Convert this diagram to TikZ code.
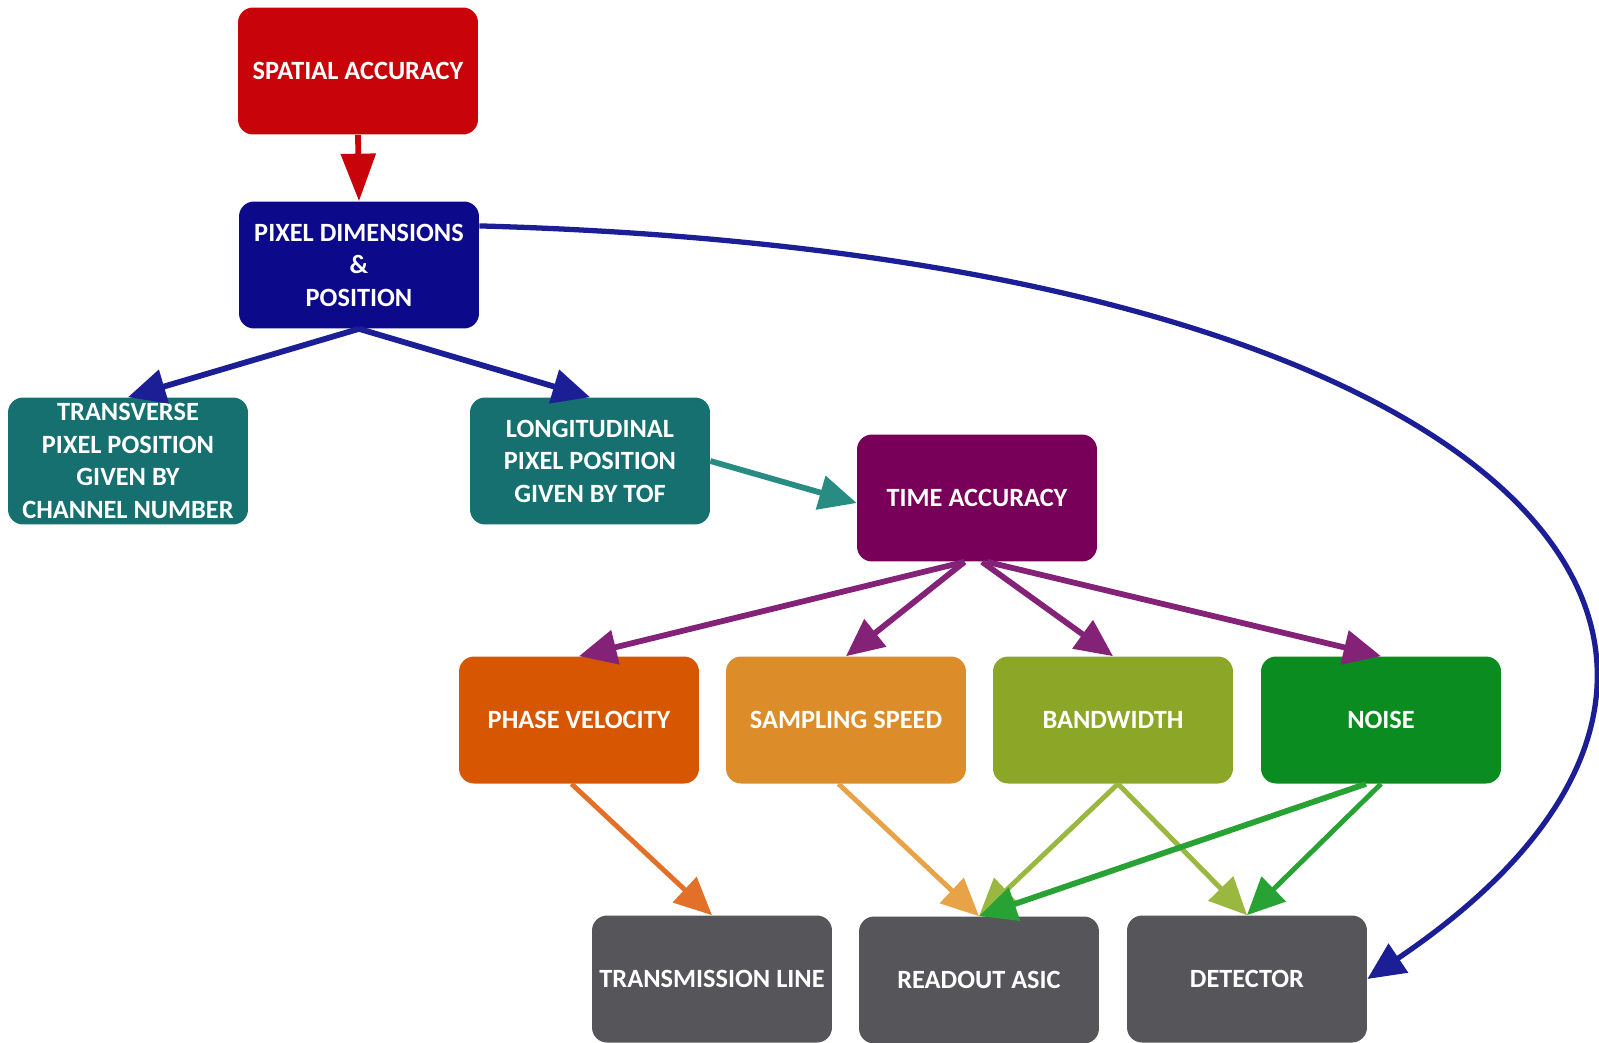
\documentclass[tikz,border=0pt]{standalone}
\usepackage{fontspec}
\setmainfont{Carlito}
\usetikzlibrary{arrows.meta,positioning}

\definecolor{redbox}{RGB}{200,4,10}
\definecolor{navybox}{RGB}{12,10,138}
\definecolor{navyline}{RGB}{28,30,150}
\definecolor{tealbox}{RGB}{22,112,112}
\definecolor{tealline}{RGB}{40,140,130}
\definecolor{purplebox}{RGB}{120,0,88}
\definecolor{purpleline}{RGB}{132,34,120}
\definecolor{phasebox}{RGB}{214,86,2}
\definecolor{phaseline}{RGB}{226,112,40}
\definecolor{sampbox}{RGB}{220,140,40}
\definecolor{sampline}{RGB}{232,162,72}
\definecolor{bandbox}{RGB}{140,166,40}
\definecolor{bandline}{RGB}{154,184,64}
\definecolor{noisebox}{RGB}{10,140,32}
\definecolor{noiseline}{RGB}{40,162,52}
\definecolor{greybox}{RGB}{86,86,90}

\tikzset{
  box/.style={rectangle, rounded corners=0.3cm, minimum width=4.8cm, minimum height=2.54cm,
    text=white, align=center, font=\bfseries\fontsize{15}{18.5}\selectfont, inner sep=2pt},
  arr/.style={line width=3.3pt, -{Triangle[length=0.75cm,width=0.68cm]}},
  thinarr/.style={arr, line width=2.8pt},
}

\begin{document}
\begin{tikzpicture}[x=0.02cm,y=-0.02cm]
  \useasboundingbox (0,0) rectangle (1599,1042); %page frame

  %top of the tree
  \node[box,fill=redbox]  (spatial) at (358,71)  {SPATIAL ACCURACY};
  \node[box,fill=navybox] (pixdim)  at (359,265) {PIXEL DIMENSIONS\\\&\\POSITION};

  %position boxes
  \node[box,fill=tealbox] (transv) at (128,461) {TRANSVERSE\\PIXEL POSITION\\GIVEN BY\\CHANNEL NUMBER};
  \node[box,fill=tealbox] (longit) at (590,461) {LONGITUDINAL\\PIXEL POSITION\\GIVEN BY TOF};
  \node[box,fill=purplebox] (time) at (977,498) {TIME ACCURACY};

  %what the timing depends on
  \node[box,fill=phasebox] (phase)    at (579,720)  {PHASE VELOCITY};
  \node[box,fill=sampbox]  (sampling) at (846,720)  {SAMPLING SPEED};
  \node[box,fill=bandbox]  (bandw)    at (1113,720) {BANDWIDTH};
  \node[box,fill=noisebox] (noise)    at (1381,720) {NOISE};

  %hardware row
  \node[box,fill=greybox] (tline)    at (712,979)  {TRANSMISSION LINE};
  \node[box,fill=greybox] (asic)     at (979,980)  {READOUT ASIC};
  \node[box,fill=greybox] (detector) at (1247,979) {DETECTOR};

  %arrows
  \draw[arr,redbox,-{Triangle[length=0.95cm,width=0.68cm]}] (spatial.south) -- (pixdim.north);
  \draw[arr,navyline] (pixdim.south) -- (transv.north);
  \draw[arr,navyline] (pixdim.south) -- (longit.north);
  \draw[arr,tealline] (longit.east) -- ([yshift=-0.1cm]time.west);

  \draw[arr,purpleline] ([xshift=-0.25cm]time.south) -- (phase.north);
  \draw[arr,purpleline] ([xshift=-0.25cm]time.south) -- (sampling.north);
  \draw[arr,purpleline] ([xshift=0.1cm]time.south) -- (bandw.north);
  \draw[arr,purpleline] ([xshift=0.2cm]time.south) -- (noise.north);

  \draw[thinarr,phaseline] ([xshift=-0.15cm]phase.south) -- (tline.north);
  \draw[thinarr,sampline]  ([xshift=-0.15cm]sampling.south) -- (asic.north);
  \draw[thinarr,bandline]  ([xshift=0.1cm]bandw.south) -- (asic.north);
  \draw[thinarr,bandline]  ([xshift=0.1cm]bandw.south) -- (detector.north);
  \draw[arr,noiseline]     ([xshift=-0.3cm]noise.south) -- (asic.north);
  \draw[thinarr,noiseline] (noise.south) -- (detector.north);

  %long way round to the detector
  \draw[arr,line width=3pt,navyline] (pixdim.18) .. controls (1530,255) and (1850,653) .. (detector.east);
\end{tikzpicture}
\end{document}
